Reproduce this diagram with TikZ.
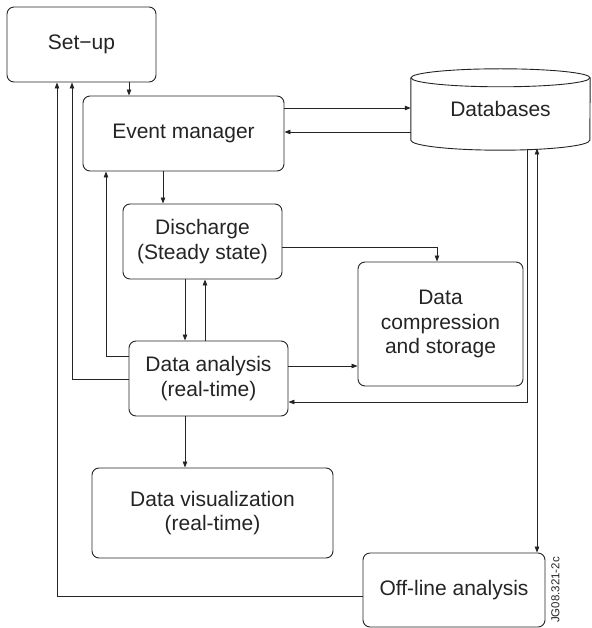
\documentclass[tikz,border=0pt]{standalone}
\usepackage{fontspec}
\setmainfont{Liberation Sans}
\usetikzlibrary{arrows.meta,calc}
\definecolor{ink}{HTML}{242424}
\begin{document}
\begin{tikzpicture}[x=1pt,y=-1pt,
  box/.style={draw=ink, line width=0.9pt, rounded corners=7pt, inner sep=0pt, align=center,
    text=ink, font=\fontsize{21}{24.5}\selectfont},
  conn/.style={draw=ink, line width=0.8pt},
  arr/.style={conn, -{Triangle[length=6pt,width=4.5pt]}},
  darr/.style={conn, {Triangle[length=6pt,width=4.5pt]}-{Triangle[length=6pt,width=4.5pt]}}]
\useasboundingbox (0,0) rectangle (591,628);

% boxes
\node[box, minimum width=149pt, minimum height=75pt] (setup) at (81.5,44.5) {Set−up};
\node[box, minimum width=201pt, minimum height=75pt] (event) at (183.5,133.5) {Event manager};
\node[box, minimum width=159pt, minimum height=75pt] (dis) at (202.5,241.5) {Discharge\\(Steady state)};
\node[box, minimum width=159pt, minimum height=75pt] (ana) at (208.5,378.5) {Data analysis\\(real-time)};
\node[box, minimum width=165pt, minimum height=124pt] (dcs) at (440.5,324) {Data\\compression\\and storage};
\node[box, minimum width=241pt, minimum height=90pt] (vis) at (212.5,513) {Data visualization\\(real-time)};
\node[box, minimum width=182pt, minimum height=74pt] (off) at (454,590) {Off-line analysis};

% database cylinder
\node[inner sep=0pt, minimum width=179pt, minimum height=62pt, text=ink,
  font=\fontsize{21}{24.5}\selectfont] (db) at (500.5,109) {\raisebox{-3.5pt}{Databases}};
\draw[conn, line width=0.9pt] (db.north) ellipse [x radius=89.5pt, y radius=9pt];
\draw[conn, line width=0.9pt] (db.north west) -- (db.south west)
  arc[start angle=180, end angle=360, x radius=89.5pt, y radius=10pt] -- (db.north east);

% column / row helper coordinates
\coordinate (x57) at (57,0);
\coordinate (x72) at (72,0);
\coordinate (x106) at (106,0);
\coordinate (x129) at (129,0);
\coordinate (x163) at (163,0);
\coordinate (x185) at (185,0);
\coordinate (x205) at (205,0);
\coordinate (x437) at (437,0);
\coordinate (x527) at (527,0);
\coordinate (x537) at (537,0);
\coordinate (y108) at (0,108);
\coordinate (y132) at (0,132);
\coordinate (y247) at (0,247);
\coordinate (y356) at (0,356);
\coordinate (y366) at (0,366);
\coordinate (y379) at (0,379);
\coordinate (y402) at (0,402);
\coordinate (y596) at (0,596);
\coordinate (dbb1) at (527,149.5);
\coordinate (dbb2) at (537,148.5);

% connectors
\draw[arr] (setup.south -| x129) -- (event.north -| x129);
\draw[arr] (event.east |- y108) -- (db.west |- y108);
\draw[arr] (db.west |- y132) -- (event.east |- y132);
\draw[arr] (event.south -| x163) -- (dis.north -| x163);
\draw[arr] (dis.south -| x185) -- (ana.north -| x185);
\draw[arr] (ana.north -| x205) -- (dis.south -| x205);
\draw[arr] (dis.east |- y247) -| (dcs.north -| x437);
\draw[arr] (ana.east |- y366) -- (dcs.west |- y366);
\draw[arr] (dbb1) |- (ana.east |- y402);
\draw[darr] (dbb2) -- (off.north -| x537);
\draw[arr] (ana.west |- y356) -| (event.south -| x106);
\draw[arr] (ana.west |- y379) -| (setup.south -| x72);
\draw[arr] (off.west |- y596) -| (setup.south -| x57);
\draw[arr] (ana.south -| x185) -- (vis.north -| x185);

% figure tag
\node[rotate=90, text=ink, inner sep=0pt, font=\fontsize{11.5}{12}\selectfont] (tag) at (555.5,590) {JG08.321-2c};
\end{tikzpicture}
\end{document}
